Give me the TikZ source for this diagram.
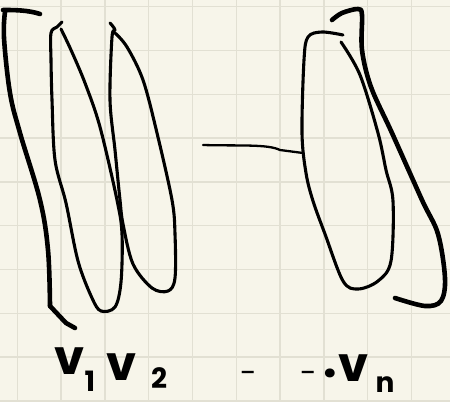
\documentclass[tikz,border=0pt]{standalone}
\usepackage{fontspec}
\newfontfamily\hand{Poppins}
\definecolor{paper}{HTML}{F7F5EA}
\definecolor{gridc}{HTML}{E2E0D3}
\tikzset{
  ink/.style={line width=3.1pt, line cap=round, line join=round, black},
  thick ink/.style={line width=4.6pt, line cap=round, line join=round, black},
  thin ink/.style={line width=2.3pt, line cap=round, line join=round, black},
  bigtxt/.style={inner sep=0pt, font=\hand\bfseries\fontsize{48}{48}\selectfont},
  subtxt/.style={inner sep=0pt, font=\hand\bfseries\fontsize{28}{28}\selectfont},
  dashtxt/.style={inner sep=0pt, font=\hand\fontsize{30}{30}\selectfont},
}
\begin{document}
\begin{tikzpicture}[x=1pt,y=-1pt]
\fill[paper] (0,0) rectangle (450,402);
\useasboundingbox (0,0) rectangle (450,402);
% grid
\foreach \k in {0,...,9} {
  \draw[gridc, line width=1.4pt] ({17.3+43.8*\k},0) -- ({17.3+43.8*\k},402);
  \draw[gridc, line width=1.4pt] (0,{6.7+43.8*\k}) -- (450,{6.7+43.8*\k});
}
% left bracket
\draw[thick ink] (40,14) .. controls (28,10) and (14,10) .. (3,10);
\draw[thick ink] plot[smooth, tension=0.6] coordinates {(5,12) (4,38) (10,93) (20,133) (40,200) (48,250) (50,306)};
\draw[thick ink] (50,306) -- (66,323) -- (75,328);
% column 1
\draw[ink] plot[smooth, tension=0.55] coordinates {(62,22) (57,27) (51,33) (51,60) (52,100) (55,160) (66,203) (78,261) (92,298) (101,311) (115,307) (121,282) (122,234) (117,200) (100,127) (85,83) (71,50) (61,29)};
% column 2
\draw[ink] plot[smooth, tension=0.55] coordinates {(110,23) (115,30) (112,37) (110,100) (115,150) (120,200) (123,224) (133,264) (152,288) (168,291) (175,278) (175,234) (172,200) (157,133) (143,80) (127,47) (115,33)};
% connector
\coordinate (ls) at (203,145);
\coordinate (le) at (303,153);
\draw[thin ink] (ls) .. controls (240,146) and (268,144) .. (280,150) -- (le);
% column n
\draw[ink] plot[smooth, tension=0.55] coordinates {(343,35) (322,32) (308,37) (304,60) (302,133) (306,173) (313,201) (325,234) (343,281) (358,289) (378,281) (391,261) (393,201) (386,170) (378,133) (360,75) (341,42)};
% right bracket
\draw[thick ink] plot[smooth, tension=0.55] coordinates {(332,20) (342,13) (358,9) (362,15) (362,50) (371,87) (392,133) (422,200) (438,234) (445,278) (441,301) (425,306) (395,298)};
% labels
\node[bigtxt, anchor=base] (v1) at (70,374) {v};
\node[subtxt, anchor=base] (s1) at (90,391) {1};
\node[bigtxt, anchor=base] (v2) at (122,380) {v};
\node[subtxt, anchor=base] (s2) at (159,388) {2};
\node[dashtxt, anchor=base] (d1) at (249,383) {-};
\node[dashtxt, anchor=base] (d2) at (309,383) {-};
\node[bigtxt, anchor=base] (dt) at (330,377) {.};
\node[bigtxt, anchor=base] (vn) at (354,381) {v};
\node[subtxt, anchor=base] (sn) at (385,392) {n};
\end{tikzpicture}
\end{document}
